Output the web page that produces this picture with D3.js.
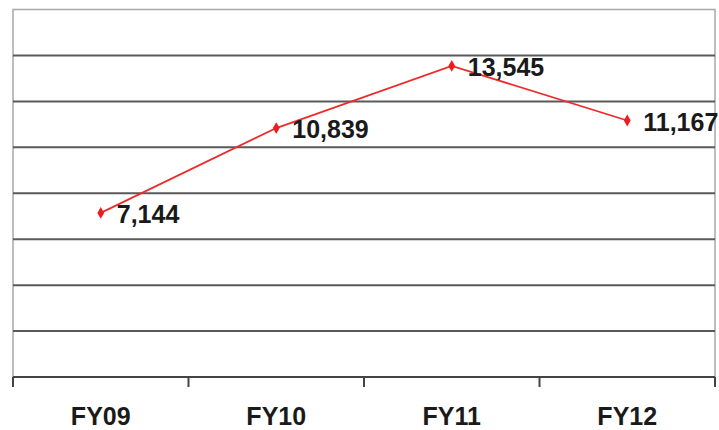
<!DOCTYPE html>
<html>
<head>
<meta charset="utf-8">
<script src="https://cdn.jsdelivr.net/npm/d3@7"></script>
<style>
  html, body { margin: 0; padding: 0; background: #fff; }
  svg { display: block; }
</style>
</head>
<body>
<div id="chart"></div>
<script>
const categories = ['FY09', 'FY10', 'FY11', 'FY12'];
const values = [7144, 10839, 13545, 11167];
const yTicks = [0, 2000, 4000, 6000, 8000, 10000, 12000, 14000, 16000];

const width = 719;
const height = 430;
const M = { top: 9.5, right: 4, bottom: 53, left: 13 };
const innerW = width - M.left - M.right;
const innerH = height - M.top - M.bottom;

const svg = d3.select('#chart')
  .append('svg')
  .attr('width', width)
  .attr('height', height);

const g = svg.append('g').attr('transform', `translate(${M.left},${M.top})`);

const x = d3.scaleBand().domain(categories).range([0, innerW]).padding(0);
const y = d3.scaleLinear().domain([0, 16000]).range([innerH, 0]);

// plot border (light grey)
g.append('rect')
  .attr('x', 0).attr('y', 0)
  .attr('width', innerW).attr('height', innerH)
  .attr('fill', 'none')
  .attr('stroke', '#a8a8a8')
  .attr('stroke-width', 1.5);

// horizontal gridlines
g.selectAll('line.grid')
  .data(yTicks.filter((d) => d > 0 && d < 16000))
  .join('line')
  .attr('class', 'grid')
  .attr('x1', 0).attr('x2', innerW)
  .attr('y1', (d) => y(d)).attr('y2', (d) => y(d))
  .attr('stroke', '#5a5a5a')
  .attr('stroke-width', 2);

// x axis with ticks at band edges
const xAxis = g.append('g').attr('transform', `translate(0,${innerH})`);
xAxis.append('line')
  .attr('x1', 0).attr('x2', innerW)
  .attr('stroke', '#444').attr('stroke-width', 2);
const edges = categories.map((c) => x(c)).concat([innerW]);
xAxis.selectAll('line.tick')
  .data(edges)
  .join('line')
  .attr('class', 'tick')
  .attr('x1', (d) => d).attr('x2', (d) => d)
  .attr('y1', 0).attr('y2', 10)
  .attr('stroke', '#444').attr('stroke-width', 2);
xAxis.selectAll('text')
  .data(categories)
  .join('text')
  .attr('x', (d) => x(d) + x.bandwidth() / 2)
  .attr('y', 48)
  .attr('text-anchor', 'middle')
  .attr('font-family', 'Liberation Sans, Arial, sans-serif')
  .attr('font-weight', 'bold')
  .attr('font-size', 25)
  .attr('fill', '#1a1a1a')
  .text((d) => d);

const cx = (i) => x(categories[i]) + x.bandwidth() / 2;

// series line
const line = d3.line()
  .x((d, i) => cx(i))
  .y((d) => y(d));

g.append('path')
  .datum(values)
  .attr('d', line)
  .attr('fill', 'none')
  .attr('stroke', '#ee2a2a')
  .attr('stroke-width', 1.8);

// diamond markers
g.selectAll('path.marker')
  .data(values)
  .join('path')
  .attr('class', 'marker')
  .attr('d', d3.symbol(d3.symbolDiamond, 40))
  .attr('transform', (d, i) => `translate(${cx(i)},${y(d)})`)
  .attr('fill', '#ee1c1c');

// value labels
const fmt = d3.format(',');
g.selectAll('text.val')
  .data(values)
  .join('text')
  .attr('class', 'val')
  .attr('x', (d, i) => cx(i) + 16)
  .attr('y', (d) => y(d) + 10)
  .attr('font-family', 'Liberation Sans, Arial, sans-serif')
  .attr('font-weight', 'bold')
  .attr('font-size', 25)
  .attr('fill', '#1a1a1a')
  .text((d) => fmt(d));
</script>
</body>
</html>
